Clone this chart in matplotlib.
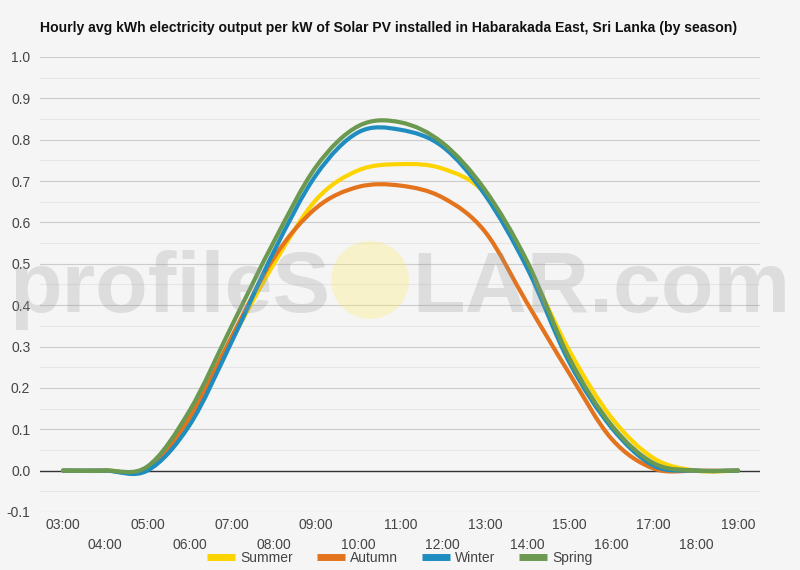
import numpy as np
import matplotlib
matplotlib.use('Agg')
import matplotlib.pyplot as plt
from matplotlib.path import Path
from matplotlib.patches import PathPatch, Ellipse
from matplotlib.lines import Line2D

# hourly values
hours = [3, 4, 5, 6, 7, 8, 9, 10, 11, 12, 13, 14, 15, 16, 17, 18, 19]
hour_labels = ['%02d:00' % h for h in hours]

summer = [0.0, 0.0, 0.005, 0.120, 0.316, 0.500, 0.655, 0.726, 0.741, 0.730, 0.670, 0.497, 0.290, 0.128, 0.030, 0.0, 0.0]
autumn = [0.0, 0.0, 0.005, 0.128, 0.324, 0.515, 0.635, 0.686, 0.689, 0.660, 0.578, 0.405, 0.235, 0.077, 0.005, 0.0, 0.0]
winter = [0.0, 0.0, 0.000, 0.110, 0.312, 0.530, 0.715, 0.818, 0.824, 0.783, 0.667, 0.490, 0.262, 0.104, 0.012, 0.0, 0.0]
spring = [0.0, 0.0, 0.010, 0.145, 0.350, 0.554, 0.735, 0.833, 0.842, 0.792, 0.679, 0.506, 0.272, 0.110, 0.018, 0.0, 0.0]

seasons = ['Summer', 'Autumn', 'Winter', 'Spring']
colors = ['#fdd400', '#e3731c', '#1f8dbf', '#6b9950']

title = 'Hourly avg kWh electricity output per kW of Solar PV installed in Habarakada East, Sri Lanka (by season)'

plt.rcParams['font.family'] = ['Liberation Sans', 'DejaVu Sans']
bg = '#f5f5f5'


def smooth_path(x, y):
    # catmull-rom style bezier through the data points
    pts = np.column_stack([x, y]).astype(float)
    ext = np.vstack([pts[0], pts, pts[-1]])
    verts = [pts[0]]
    codes = [Path.MOVETO]
    for i in range(len(pts) - 1):
        p0, p1, p2, p3 = ext[i], ext[i + 1], ext[i + 2], ext[i + 3]
        c1 = p1 + (p2 - p0) / 6.0
        c2 = p2 - (p3 - p1) / 6.0
        verts += [c1, c2, p2]
        codes += [Path.CURVE4] * 3
    return Path(verts, codes)


fig = plt.figure(figsize=(8, 5.7), dpi=100, facecolor=bg)
ax = fig.add_axes([0.05, 0.1018, 0.90, 0.7982])
ax.set_facecolor(bg)

ax.set_xlim(2.455, 19.52)
ax.set_ylim(-0.1, 1.0)

# grid
for v in np.arange(-0.05, 1.0, 0.1):
    ax.axhline(v, color='#e6e6e6', lw=0.8, zorder=0)
for v in np.arange(-0.1, 1.01, 0.1):
    ax.axhline(v, color='#cccccc', lw=0.8, zorder=0.5)
ax.axhline(0, color='#333333', lw=1.0, zorder=1)

for s in ax.spines.values():
    s.set_visible(False)

ax.set_yticks(np.round(np.arange(-0.1, 1.01, 0.1), 1))
ax.set_yticklabels(['%.1f' % v for v in np.arange(-0.1, 1.01, 0.1)])
ax.tick_params(axis='y', length=0, pad=7, labelsize=10, labelcolor='#444444')

ax.set_xticks(hours[::2], hour_labels[::2])
ax.set_xticks(hours[1::2], hour_labels[1::2], minor=True)
ax.tick_params(axis='x', which='major', length=0, pad=4, labelsize=10, labelcolor='#444444')
ax.tick_params(axis='x', which='minor', length=0, pad=19, labelsize=10, labelcolor='#444444')

for data, c in zip([summer, autumn, winter, spring], colors):
    ax.add_patch(PathPatch(smooth_path(hours, data), fill=False, edgecolor=c,
                           lw=3, zorder=3, capstyle='round', joinstyle='round'))

# watermark
fig.text(330 / 800, 1 - 312 / 570, 'profileS', fontsize=62, fontweight='bold',
         color='#999999', alpha=0.26, ha='right', va='baseline', zorder=10)
fig.text(412 / 800, 1 - 312 / 570, 'LAR.com', fontsize=62, fontweight='bold',
         color='#999999', alpha=0.26, ha='left', va='baseline', zorder=10)
fig.patches.append(Ellipse((370 / 800, 1 - 280 / 570), 78 / 800, 78 / 570,
                           transform=fig.transFigure, facecolor='#ffec5c',
                           alpha=0.28, edgecolor='none', zorder=10))

fig.text(40 / 800, 1 - 28 / 570, title, fontsize=10.1, fontweight='bold',
         color='#111111', ha='left', va='center')

handles = [Line2D([], [], color=c, lw=5, solid_capstyle='butt') for c in colors]
fig.legend(handles, seasons, loc='center', bbox_to_anchor=(0.5, 1 - 558 / 570),
           ncol=4, frameon=False, fontsize=10, handlelength=2.0,
           handletextpad=0.4, columnspacing=1.7, labelcolor='#444444')

fig.savefig('out.png', dpi=100, facecolor=bg)
